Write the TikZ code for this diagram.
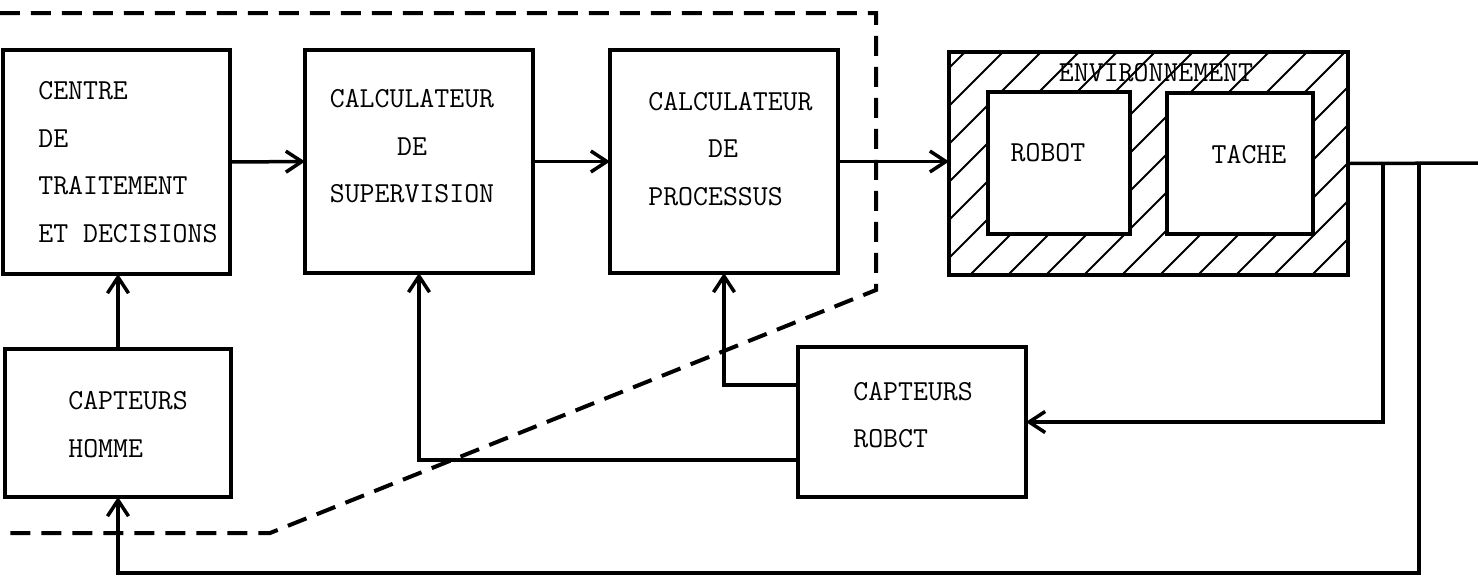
\documentclass[tikz,border=0pt]{standalone}
\usepackage{xcolor}
\usepackage{tikz}
\usetikzlibrary{arrows.meta, positioning, calc}

\begin{document}
\begin{tikzpicture}[
    x=0.02cm, y=-0.02cm,
    font=\fontsize{16.5}{27}\selectfont\ttfamily,
    bloc/.style={draw, line width=0.08cm, inner sep=0pt, outer sep=0pt},
    texte/.style={align=left, inner sep=0pt},
    fleche/.style={-{Straight Barb[length=0.32cm, width=0.42cm]}, line width=0.07cm},
    liaison/.style={line width=0.07cm},
    frontiere/.style={line width=0.08cm, dash pattern=on 0.4cm off 0.22cm}
  ]
    \useasboundingbox (0,0) rectangle (1478,576);
    % Hachures de l'environnement, autour du robot et de la tache.
    \begin{scope}[even odd rule]
      \clip (949,52) rectangle (1348,275) (988,92) rectangle (1130,234)
        (1167,93) rectangle (1313,234);
      \foreach \k [evaluate=\k as \c using 1245+38*\k] in {-7,...,10} {
        \draw[line width=0.04cm] (\c-300,300) -- (\c,0);
      }
    \end{scope}
    \node[bloc, minimum width=4.54cm, minimum height=4.48cm] (centre) at (116.5,162) {};
    \node[bloc, minimum width=4.56cm, minimum height=4.46cm] (superv) at (419,161.5) {};
    \node[bloc, minimum width=4.56cm, minimum height=4.46cm] (process) at (724,161.5) {};
    \node[bloc, minimum width=7.98cm, minimum height=4.46cm] (env) at (1148.5,163.5) {};
    \node[bloc, minimum width=2.84cm, minimum height=2.84cm] (robot) at (1059,163) {};
    \node[bloc, minimum width=2.92cm, minimum height=2.82cm] (tache) at (1240,163.5) {};
    \node[bloc, minimum width=4.52cm, minimum height=2.96cm] (homme) at (118,423) {};
    \node[bloc, minimum width=4.56cm, minimum height=3.0cm] (crobot) at (912,422) {};

    \node[texte, anchor=west] (tcentre) at (38,162) {CENTRE\\DE\\TRAITEMENT\\ET DECISIONS};
    \node[texte, align=center] (tsuperv) at (412,146.5) {CALCULATEUR\\DE\\SUPERVISION};
    \node[texte, anchor=west] (tprocess) at (648,149) {CALCULATEUR\\\phantom{CALC}DE\\PROCESSUS};
    \node[texte] (tenv) at (1156,73) {ENVIRONNEMENT};
    \node[texte] (trobot) at (1048,153) {ROBOT};
    \node[texte] (ttache) at (1249,155) {TACHE};
    \node[texte, anchor=west] (thomme) at (68,424.5) {CAPTEURS\\HOMME};
    \node[texte, anchor=west] (tcrobot) at (853,415) {CAPTEURS\\ROBCT};

    \coordinate (sortie) at (1478,163);
    \coordinate (b1) at (1383,163);
    \coordinate (b2) at (1419,163);
    \coordinate (retour) at (1419,573);

    \draw[fleche] (centre.east) -- (superv.west);
    \draw[fleche] (superv.east) -- (process.west);
    \draw[fleche] (process.east) -- (process.east -| env.west);
    \draw[liaison] (env.east) -- (sortie);
    \draw[fleche] (b1) |- (crobot.east);
    \draw[fleche] (b2) -- (retour) -| (homme.south);
    \draw[fleche] (homme.north) -- (homme.north |- centre.south);
    \draw[fleche] ([yshift=-0.76cm]crobot.west) -| (superv.south);
    \draw[fleche] ([yshift=0.74cm]crobot.west) -| (process.south);

    \draw[frontiere] (0,13) -- (876,13) -- (876,290) -- (270,533) -- (0,533);
  \end{tikzpicture}
\end{document}
